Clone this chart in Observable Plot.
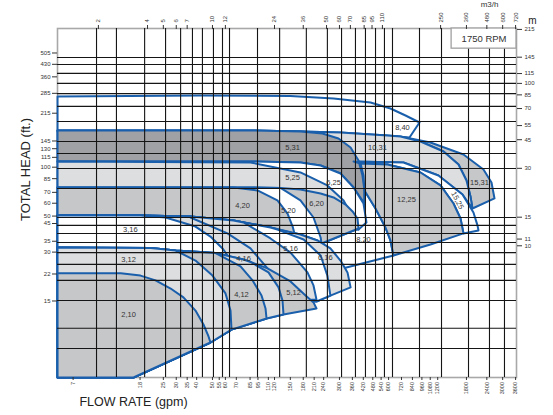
<!DOCTYPE html>
<html><head><meta charset="utf-8">
<script src="https://cdn.jsdelivr.net/npm/d3@7"></script>
<script src="https://cdn.jsdelivr.net/npm/@observablehq/plot@0.6"></script>
<style>html,body{margin:0;padding:0;background:#fff}svg{display:block}</style>
</head><body><div id="chart"></div>
<script>
// ---- scale extents (gpm, ft at the frame edges) ----
const X_DOMAIN = [5.616, 3647];
const Y_DOMAIN = [5.07, 714.6];
const GPM_PER_M3H = 5;      // conversion implied by the chart's paired labels
const FT_PER_M = 3.281;

// ---- tick labels ----
const leftFt = [505, 430, 360, 285, 215, 145, 130, 115, 100, 85, 70, 60, 50, 45, 35, 30, 22, 15];
const rightM = [215, 145, 115, 100, 85, 70, 55, 45, 30, 15, 11, 10];
const topM3h = [2, 4, 5, 6, 7, 10, 12, 24, 36, 50, 60, 70, 85, 95, 110, 250, 360, 480, 600, 720];
const bottomGpm = [7, 18, 25, 30, 35, 40, 50, 55, 60, 70, 85, 95, 110, 120, 150, 180, 210, 240, 300, 360, 420, 480, 540, 600, 720, 840, 960, 1080, 1200, 1800, 2400, 3000, 3600];

// ---- grid lines ----
const vGridGpm = [9.74, 12.9, 19.2, 25.8, 31.9, 37.7, 43.4, 50.7, 57.6, 63.6, 94.4, 129, 188, 253, 309, 376, 433, 499, 566, 634, 928, 1266, 1853, 2491, 3078];
const hGridFt = [474, 429, 378, 328, 284, 237, 191, 144, 121.5, 98.2, 73.9, 49.0, 43.8, 39.1, 34.4, 29.8, 25.2, 20.1, 15.1, 10.2, 7.65];

// ---- curves [gpm, ft] ----
const c840 = [[5.62,272.6],[42.2,276.5],[150,274.6],[276,264.9],[465,250.3],[616,229.8],[762,208.1],[928,188.5],[806,152.4],[535,156.8],[173,165.9],[5.62,165.9]];
const top31 = [[5.62,168.3],[85.5,168.3],[173,165.9],[304.5,163.6],[591,156.8],[710,154.6],[1083,141.9],[1726,119.7],[2289,96.8],[2563,80.5],[2674,64.2]];
const divider31 = [[710,154.6],[941,143.9],[1302,124.9],[1609,103.9],[1801,82.8],[1905,66.0],[1959,55.7]];
const outer25 = [[366,108.4],[740,106.9],[1212,88.9],[1702,67.9],[1987,52.6],[2103,43.8],[2133,40.8]];
const c531 = [[173,165.9],[236,161.3],[296,150.3],[351,132.2],[392.5,110.0],[415,88.9],[427,71.9],[427,59.8]];
const top25 = [[5.62,108.4],[85.5,108.4],[173,106.9],[230,102.5],[304.5,91.5],[366,75.0],[421,59.8]];
const end25 = [[439,45.7],[392.5,41.3]];
const c525 = [[85.5,106.9],[173,92.8],[253,77.2],[318,62.4],[376,45.7],[392.5,41.3]];
const c1225 = [[404,105.4],[591,103.9],[941,92.8],[1248,77.2],[1499,59.8],[1655,48.3],[1726,39.1]];
const bot1225 = [[1083,33.4],[643,28.6]];
const left1225 = [[421,88.9],[427,71.9],[499,55.7],[574.5,42.5],[616,35.4],[643,28.6]];
const top20 = [[5.62,75.0],[85.5,75.0],[130.6,74.5],[173,72.9],[230,68.9],[276,65.1],[327,58.9],[361,53.4],[387,48.3],[392.5,41.9]];
const b620 = [[392.5,41.9],[233,33.9]];
const c620 = [[130.6,73.9],[173,62.4],[208,49.0],[230,36.9],[233,33.9]];
const c420 = [[67.3,75.0],[94.4,71.9],[125,62.4],[144,51.9],[155,43.1],[159,39.1]];
const b820 = [[643,28.6],[313,23.8]];
const top16 = [[5.62,50.4],[18.1,50.4],[36.7,49.7],[67.3,47.0],[113.4,42.5],[173,38.5],[220,35.4],[264,31.6],[304.5,26.6],[336,22.5],[351,18.2]];
const a16 = [[25.8,49.0],[39.35,43.1],[48.6,37.4],[57.6,31.6],[66.3,25.9],[72.2,23.1]];
const b16 = [[36.7,49.0],[61.8,39.1],[85.5,31.6],[108.7,23.8],[125,17.9],[130.6,15.1]];
const c16 = [[77.5,45.7],[113.4,36.4],[150.4,29.8],[191,22.5],[208,18.7],[217,15.3]];
const d16 = [[125,41.3],[181,35.9],[230,28.6],[253,21.5],[264,16.2]];
const bottom16 = [[351,18.2],[264,16.2],[217,14.9],[173,15.1],[5.62,25.9]];
const top12 = [[5.62,32.0],[20.9,31.8],[29.7,30.7],[42.2,30.0],[52.2,29.6],[77.5,27.0],[85.5,26.1],[108.7,23.8],[150.4,19.8],[185.9,16.2],[208,14.7],[217,13.5]];
const a12 = [[29.7,30.7],[39.35,26.6],[50.0,21.5],[60.1,16.7],[64.5,13.1],[65.4,10.0]];
const b12 = [[52.2,29.6],[74.3,24.5],[88.0,20.1],[99.9,16.2],[105.7,13.5],[107.2,11.7]];
const cc12 = [[85.5,26.1],[110.2,22.5],[127,18.2],[134.3,15.1],[136.2,12.4]];
const bottom12 = [[217,13.5],[136.2,12.4],[107.2,11.7],[65.4,10.0],[48.6,8.33],[16.4,5.07],[5.62,5.07]];
const c210 = [[5.62,22.2],[13.7,22.2],[18.1,21.5],[22.4,20.1],[27.7,17.9],[33.2,15.8],[39.35,13.1],[44.05,10.75],[47.3,9.07],[48.6,8.33]];

// ---- region labels ----
const regionLabels = [
  {t:"8,40",x:730,y:175.6},{t:"5,31",x:154.7,y:132.2},{t:"10,31",x:513,y:132.2},{t:"15,31",x:2163,y:80.5},
  {t:"5,25",x:154.7,y:86.4},{t:"6,25",x:276,y:80.5},{t:"12,25",x:772,y:63.3},
  {t:"4,20",x:76.4,y:58.1},{t:"5,20",x:146,y:54.1},{t:"6,20",x:217,y:59.8},{t:"8,20",x:421,y:35.9},
  {t:"3,16",x:15.7,y:41.3},{t:"4,16",x:77.5,y:27.4},{t:"5,16",x:150.4,y:31.6},{t:"6,16",x:246,y:27.8},
  {t:"3,12",x:15.3,y:27.0},{t:"4,12",x:75.3,y:16.45},{t:"5,12",x:157,y:16.9},{t:"2,10",x:15.3,y:12.4}
];
const rotatedLabels = [{t:"15,25",x:1586,y:62.4}];

const BLUE = "#1a5fab", DARK = "#a0a1a4", MID = "#c6c7c9", LIGHT = "#dddee0", WHITE = "#ffffff";
const rev = a => a.slice().reverse();

const shapes = [
  [WHITE, c840],
  [MID, [...top31, ...rev(divider31)]],
  [LIGHT, [...top31.slice(0,6), ...divider31.slice(1), ...rev(outer25.slice(0,4)), top25[0]]],
  [DARK, [...top31.slice(0,2), ...c531, ...rev(top25.slice(0,6))]],
  [WHITE, [...rev(b620), c531[c531.length-1], ...left1225.slice(1), b820[1]]],
  [WHITE, [...top25, ...end25, top20[0]]],
  [LIGHT, [top25[0], ...c525, top20[0]]],
  [WHITE, [...outer25, ...rev(c1225)]],
  [MID, [...c1225, ...bot1225, ...rev(left1225.slice(0,5))]],
  [MID, [...top20, b620[1], ...rev(top16.slice(0,7))]],
  [WHITE, [...top20.slice(0,3), ...c620.slice(1), ...rev(top16.slice(0,7))]],
  [MID, [top20[0], ...c420, ...rev(top16.slice(0,5))]],
  [LIGHT, [...top16, ...bottom16.slice(1)]],
  [WHITE, [...top16.slice(0,5), ...d16, ...bottom16.slice(2)]],
  [LIGHT, [...top16.slice(0,4), ...c16, ...bottom16.slice(3)]],
  [LIGHT, [...top16.slice(0,3), ...b16, bottom16[4]]],
  [WHITE, [...top16.slice(0,2), ...a16, bottom16[4]]],
  [MID, [...top12, ...bottom12.slice(1)]],
  [LIGHT, [...top12.slice(0,6), ...cc12, ...bottom12.slice(2)]],
  [MID, [...top12.slice(0,4), ...b12, ...bottom12.slice(3)]],
  [LIGHT, [...top12.slice(0,2), ...a12, ...bottom12.slice(4)]],
  [MID, [...c210, ...bottom12.slice(5)]]
];

const FONT = "'Liberation Sans', Arial, sans-serif";
const shapeMarks = shapes.map(([fill, pts]) =>
  Plot.line([...pts, pts[0]], {x: d => d[0], y: d => d[1], fill, stroke: BLUE, strokeWidth: 2, strokeLinejoin: "round"}));

const chart = Plot.plot({
  width: 553, height: 415,
  marginLeft: 57, marginRight: 37, marginTop: 28, marginBottom: 38,
  style: {fontFamily: FONT, background: "#fff"},
  x: {type: "log", domain: X_DOMAIN},
  y: {type: "log", domain: Y_DOMAIN},
  marks: [
    Plot.frame({stroke: "#a8a8a8", strokeWidth: 1.6}),
    ...shapeMarks,
    Plot.ruleX(vGridGpm, {stroke: "#151515", strokeWidth: 1.1}),
    Plot.ruleY(hGridFt, {stroke: "#151515", strokeWidth: 1.1}),
    Plot.rect([0], {x1: 1460, x2: X_DOMAIN[1], y1: 537, y2: Y_DOMAIN[1], fill: "#fff", stroke: "#a0a0a0", strokeWidth: 1.3}),
    Plot.text(["1750 RPM"], {x: 2307, y: 619, fontSize: 9.5, fill: "#333"}),
    Plot.axisY(leftFt, {anchor: "left", tickSize: 5, tickPadding: 2, fontSize: 6, color: "#333", label: null, text: d => String(d)}),
    Plot.axisY(rightM.map(m => m * FT_PER_M), {anchor: "right", tickSize: 5, tickPadding: 3, fontSize: 6, color: "#333", label: null, text: d => String(Math.round(d / FT_PER_M))}),
    Plot.axisX(topM3h.map(v => v * GPM_PER_M3H), {anchor: "top", tickSize: 4, tickPadding: 2, tickRotate: -90, fontSize: 6, color: "#333", label: null, text: d => String(Math.round(d / GPM_PER_M3H))}),
    Plot.axisX(bottomGpm, {anchor: "bottom", tickSize: 3, tickPadding: 1.5, tickRotate: -90, fontSize: 5.5, color: "#333", label: null, text: d => String(d)}),
    Plot.text(regionLabels, {x: "x", y: "y", text: "t", fontSize: 7.5, fill: "#333"}),
    Plot.text(rotatedLabels, {x: "x", y: "y", text: "t", fontSize: 7.5, fill: "#333", rotate: 62}),
    Plot.text(["TOTAL HEAD (ft.)"], {frameAnchor: "left", dx: -32, dy: 18, rotate: -90, fontSize: 13, fill: "#222"}),
    Plot.text(["FLOW RATE (gpm)"], {frameAnchor: "bottom-left", dx: 76, dy: 28, fontSize: 12.5, fill: "#222", textAnchor: "middle"}),
    Plot.text(["m"], {frameAnchor: "top-right", dx: 20, dy: -12, fontSize: 10, fill: "#222"}),
    Plot.text(["m3/h"], {frameAnchor: "top-right", dx: -18, dy: -27, fontSize: 8, fill: "#333"})
  ]
});
document.getElementById("chart").append(chart);
</script></body></html>
